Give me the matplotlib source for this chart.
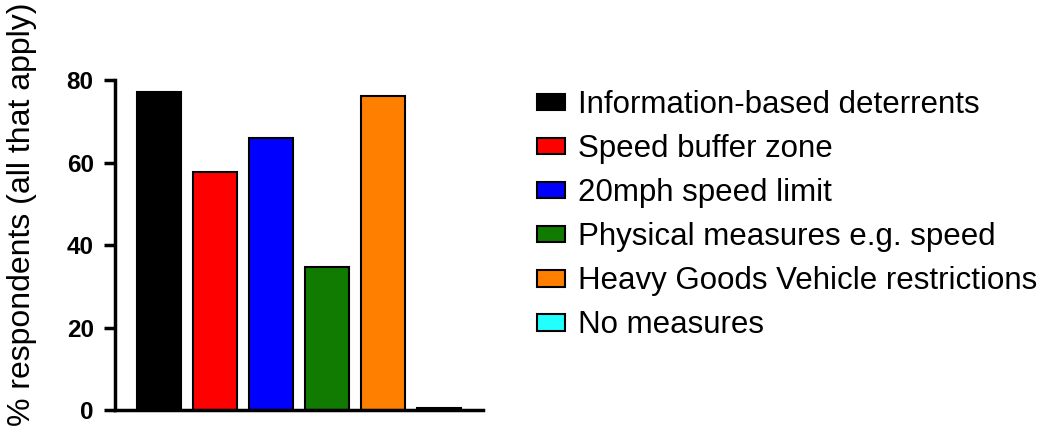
import matplotlib
matplotlib.use("Agg")
import matplotlib.pyplot as plt
import numpy as np

plt.rcParams['font.family'] = ['Liberation Sans', 'DejaVu Sans']

# categories and values (% respondents)
categories = ["Information-based deterrents", "Speed buffer zone", "20mph speed limit",
              "Physical measures e.g. speed", "Heavy Goods Vehicle restrictions", "No measures"]
values = [77.2, 57.8, 66.0, 34.8, 76.2, 0.6]
colors = ["#000000", "#ff0000", "#0000ff", "#117a00", "#ff8000", "#22ffff"]

fig = plt.figure(figsize=(10.51, 4.33), dpi=100)
ax = fig.add_axes([0.109, 0.053, 0.351, 0.762])

index = np.arange(len(categories))
ax.bar(index, values, width=0.79, color=colors, edgecolor="black", linewidth=1.5)

ax.set_xlim(-0.79, 5.79)
ax.set_ylim(0, 80)
ax.set_yticks([0, 20, 40, 60, 80])
ax.set_xticks([])
ax.spines['top'].set_visible(False)
ax.spines['right'].set_visible(False)
ax.spines['left'].set_linewidth(2.5)
ax.spines['bottom'].set_linewidth(2.5)
ax.tick_params(axis='y', direction='out', length=8, width=2.5, labelsize=17.5, pad=7)
for t in ax.get_yticklabels():
    t.set_fontweight('bold')

ax.set_ylabel("% respondents (all that apply)", fontsize=23)
ax.yaxis.set_label_coords(-0.209, 0.594)

# legend
handles = [plt.Rectangle((0, 0), 1, 1, facecolor=c, edgecolor="black", linewidth=1.5) for c in colors]
fig.legend(handles, categories, loc='upper left', bbox_to_anchor=(0.484, 0.857), frameon=False,
           fontsize=22.5, handlelength=0.9, handleheight=0.45, handletextpad=0.42, labelspacing=0.45)

plt.savefig("out.png", dpi=100)
